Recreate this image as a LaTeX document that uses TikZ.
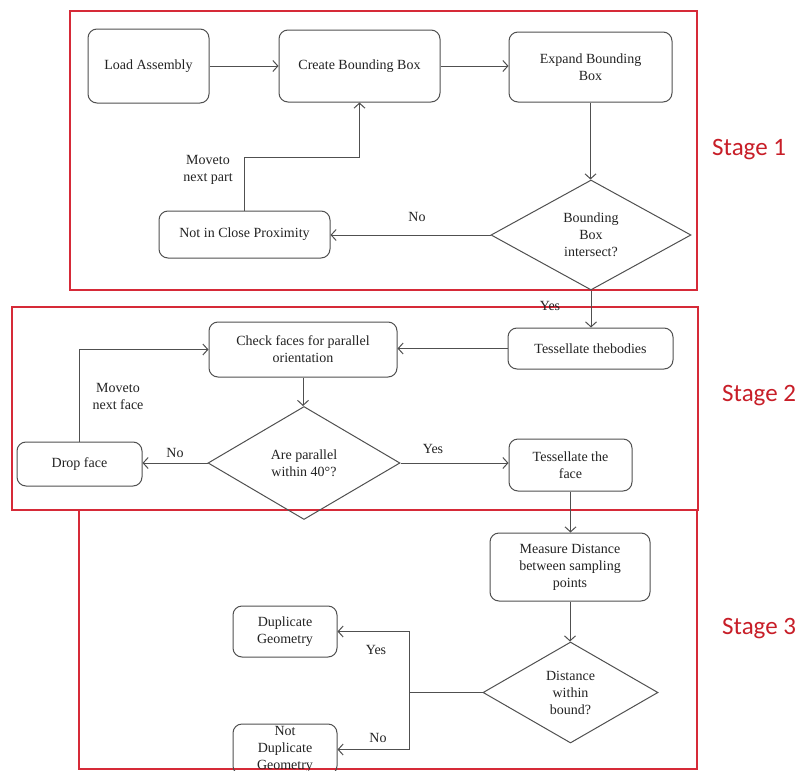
\documentclass[tikz,border=0pt]{standalone}
\usepackage{fontspec}
\setmainfont{Liberation Serif}
\newfontfamily\stagefont{Carlito}
\usetikzlibrary{arrows.meta,shapes.geometric}
\definecolor{stagered}{RGB}{214,42,56}
\definecolor{stagetext}{RGB}{200,30,40}
\definecolor{edgegray}{RGB}{80,80,80}
\definecolor{inkgray}{RGB}{35,35,35}
\begin{document}
\begin{tikzpicture}[x=1pt,y=-1pt,
  txt/.style={font=\fontsize{14}{17}\selectfont, text=inkgray},
  proc/.style={txt, draw=edgegray, line width=1pt, rounded corners=9pt,
    align=center, inner sep=2pt},
  dec/.style={txt, diamond, draw=edgegray, line width=1pt, align=center,
    inner sep=0pt, aspect=1.7},
  flow/.style={draw=edgegray, line width=1pt,
    -{Straight Barb[length=5pt,width=11pt]}},
  plain/.style={draw=edgegray, line width=1pt},
  lbl/.style={txt, align=center, inner sep=0pt},
  stagebox/.style={draw=stagered, line width=1.6pt},
  stagelbl/.style={text=stagetext, font=\stagefont\fontsize{25}{30}\selectfont,
    anchor=west, inner sep=0pt}]

\useasboundingbox (0,0) rectangle (798,771);
\clip (0,0) rectangle (798,771);
\fill[white] (0,0) rectangle (798,771);

% stage frames
\draw[stagebox] (70,11) rectangle (697,290);
\draw[stagebox] (12,307) rectangle (698,510);
\draw[stagebox] (79,510) rectangle (697,769);

\node[stagelbl] (s1) at (712,150) {Stage 1};
\node[stagelbl] (s2) at (722,396) {Stage 2};
\node[stagelbl] (s3) at (722,629) {Stage 3};

% stage 1
\node[proc, minimum width=121pt, minimum height=74pt] (load) at (148.5,66) {Load Assembly};
\node[proc, minimum width=161pt, minimum height=72pt] (create) at (359.5,66) {Create Bounding Box};
\node[proc, minimum width=163pt, minimum height=70pt] (expand) at (590.5,67) {Expand Bounding\\Box};
\node[dec, minimum width=200pt, minimum height=110pt] (bbx) at (591,235) {Bounding\\Box\\intersect?};
\node[proc, minimum width=171pt, minimum height=47pt] (ncp) at (244.5,234.5) {Not in Close Proximity};

% stage 2
\node[proc, minimum width=165pt, minimum height=41pt] (tess) at (590.5,348.5) {Tessellate thebodies};
\node[proc, minimum width=188pt, minimum height=55pt] (check) at (303,349.5) {Check faces for parallel\\orientation};
\node[dec, minimum width=192pt, minimum height=113pt] (par) at (304,463) {Are parallel\\within 40°?};
\node[proc, minimum width=125pt, minimum height=44pt] (drop) at (79.5,464) {Drop face};
\node[proc, minimum width=123pt, minimum height=52pt] (tface) at (570.5,465) {Tessellate the\\face};

% stage 3
\node[proc, minimum width=160pt, minimum height=68pt] (measure) at (570,567) {Measure Distance\\between sampling\\points};
\node[dec, minimum width=175pt, minimum height=101pt] (dist) at (570.5,692.5) {Distance\\within\\bound?};
\node[proc, minimum width=104pt, minimum height=51pt] (dup) at (285,631.5) {Duplicate\\Geometry};
\node[proc, minimum width=104pt, minimum height=51pt, inner sep=0pt] (notdup) at (285,749.5) {Not\\Duplicate\\Geometry};

% connectors, stage 1
\draw[flow] (load) -- (create);
\draw[flow] (create.east) -- (create.east -| expand.west);
\draw[flow] (expand.south) -- (expand.south |- bbx.north);
\draw[flow] (bbx.west) -- (bbx.west -| ncp.east);
\coordinate (partbend) at (360,157);
\draw[flow] (ncp.north) |- (create.south |- partbend) -- (create.south);
\node[lbl] (lno1) at (417,217) {No};
\node[lbl] (lmove1) at (208,170) {Moveto\\next part};

% connectors, stage 2
\draw[flow] (bbx.south) -- (bbx.south |- tess.north);
\node[lbl] (lyes1) at (550,306) {Yes};
\draw[flow] (tess.west) -- (tess.west -| check.east);
\draw[flow] (check.south) -- (check.south |- par.north);
\draw[flow] (par.west) -- (par.west -| drop.east);
\draw[flow] (drop.north) |- (check.west);
\draw[flow] (par.east) -- (par.east -| tface.west);
\node[lbl] (lno2) at (175,453) {No};
\node[lbl] (lyes2) at (433,449) {Yes};
\node[lbl] (lmove2) at (118,396) {Moveto\\next face};

% connectors, stage 3
\draw[flow] (tface.south) -- (tface.south |- measure.north);
\draw[flow] (measure.south) -- (measure.south |- dist.north);
\coordinate (split) at (409,692.5);
\draw[plain] (dist.west) -- (split);
\draw[flow] (split) |- (dup.east);
\draw[flow] (split) |- (notdup.east);
\node[lbl] (lyes3) at (376,650) {Yes};
\node[lbl] (lno3) at (378,738) {No};
\end{tikzpicture}
\end{document}
